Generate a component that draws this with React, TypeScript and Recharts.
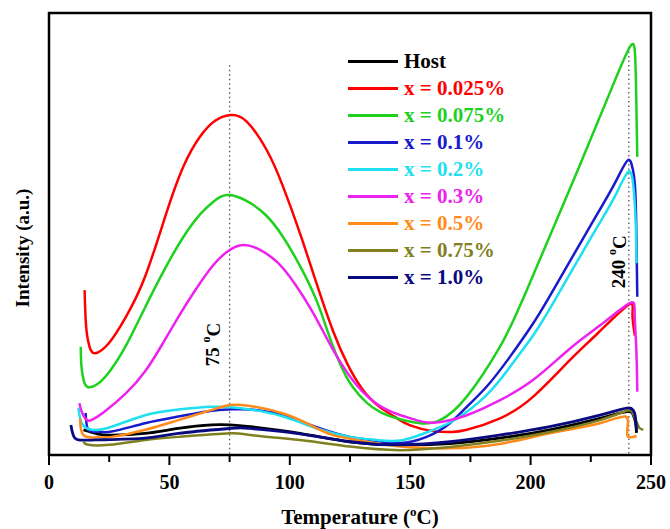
import * as React from "react"
import {
  LineChart,
  Line,
  XAxis,
  YAxis,
  Legend,
  ReferenceLine,
  ReferenceArea,
  ReferenceDot,
} from "recharts"

// [temperature °C, intensity a.u.]
const host: [number, number][] = [
  [14.3, 5.7], [20, 4.8], [26, 4.5], [39.9, 4.9], [53.7, 6.0], [67.6, 6.8], [75, 6.8],
  [83.5, 6.4], [104.2, 4.9], [125, 3.0], [145.8, 2.3], [166.5, 2.6], [187, 3.8],
  [208, 5.7], [228.8, 8.3], [239.9, 9.8], [242.5, 9.2], [243.5, 7.5], [244, 5.0],
]
const x0025: [number, number][] = [
  [14.8, 37.3], [15.0, 33.5], [15.6, 28.0], [16.8, 24.5], [19.1, 23.0], [25, 25.4],
  [32, 31.3], [40, 40.5], [48.9, 55.0], [56, 65.5], [62.7, 72.0], [69, 75.6], [75.2, 76.9],
  [82, 75.5], [90.4, 69.0], [97, 61.0], [104.2, 50.2], [111, 39.0], [118, 28.0], [124, 20.5],
  [130, 15.0], [137, 11.0], [144, 8.5], [150, 6.7], [159.6, 5.4], [167, 5.2], [173.5, 5.7],
  [187.3, 8.3], [201.1, 13.2], [216.4, 21.5], [228, 27.6], [240.5, 33.9], [242.3, 32.0],
  [243.3, 27.0],
]
const x0075: [number, number][] = [
  [13.2, 24.5], [13.5, 20.0], [14.8, 16.2], [16.7, 15.3], [20, 16.0], [25, 18.8],
  [32, 24.8], [40, 33.5], [48, 42.0], [56, 49.5], [63, 54.6], [68, 57.2], [73.8, 58.8],
  [82, 57.5], [90, 54.3], [97, 49.5], [104, 43.0], [111, 35.1], [116, 27.5], [121, 20.5],
  [126, 15.5], [132, 11.8], [138, 9.6], [145, 8.2], [154, 7.2], [162.4, 7.9],
  [173.5, 13.2], [187.3, 24.5], [198.4, 37.3], [220, 65.0], [234, 83.4], [241.3, 92.4],
  [243.4, 90.5], [243.9, 80.0], [244.3, 67.5],
]
const x01: [number, number][] = [
  [15.2, 9.5], [16.3, 5.7], [20, 5.3], [26, 5.3], [39.9, 7.2], [53.7, 8.7], [67.6, 10.0],
  [75, 10.3], [83.5, 10.3], [97.3, 9.0], [111.2, 6.3], [125, 4.1], [136.1, 3.2],
  [145.8, 2.7], [156.8, 4.1], [166.5, 7.2], [173.5, 10.9], [181.8, 15.5], [191.4, 22.2],
  [201.1, 29.8], [209.4, 37.3], [225, 52.0], [235, 61.5], [240.4, 66.7], [242.5, 64.5],
  [243.6, 58.0], [244.3, 35.8],
]
const x02: [number, number][] = [
  [12.2, 10.6], [13.6, 7.2], [17.7, 5.7], [26, 6.4], [39.9, 9.0], [53.7, 10.3],
  [67.6, 10.9], [75, 10.8], [83.5, 10.3], [97.3, 8.7], [111.2, 6.0], [125, 4.1],
  [136.1, 3.4], [147.1, 3.4], [159.6, 5.7], [169.3, 8.2], [181.8, 13.6], [191.4, 19.9],
  [201.1, 27.1], [209.4, 34.4], [225, 49.1], [235, 58.5], [240.6, 64.1], [242.7, 60.7],
  [243.6, 53.2], [244, 43.4],
]
const x03: [number, number][] = [
  [12.6, 11.7], [13.6, 9.8], [15.7, 7.9], [18, 8.0], [22.6, 9.6], [32, 14.0], [40, 19.0],
  [47, 25.0], [54, 31.5], [61, 37.5], [68, 42.8], [74, 46.0], [80.7, 47.5], [88, 46.3],
  [95, 43.5], [102, 38.8], [109, 32.8], [115, 26.8], [121, 21.0], [127, 16.3], [133, 12.9],
  [139, 10.6], [146, 9.0], [152, 8.0], [159.6, 7.3], [173.5, 9.0], [187.3, 12.4],
  [201.1, 17.0], [216.4, 24.1], [229, 29.4], [241, 34.3], [243.2, 32.1], [243.9, 24.0],
  [244.3, 14.3],
]
const x05: [number, number][] = [
  [12.9, 8.3], [14.3, 4.5], [20, 4.0], [26, 4.1], [39.9, 5.7], [53.7, 7.9], [67.6, 10.2],
  [75, 11.3], [83.5, 11.1], [97.3, 9.4], [108.4, 6.8], [118, 4.5], [132, 3.0],
  [145.8, 1.9], [166.5, 1.5], [187, 2.5], [208, 4.9], [228.8, 7.2], [239.4, 8.7],
  [240.2, 6.0], [240.6, 4.1], [244, 4.3],
]
const x075: [number, number][] = [
  [14.3, 3.0], [16.3, 2.3], [25, 2.3], [39.9, 3.4], [53.7, 4.1], [75, 4.9], [83.5, 4.5],
  [104.2, 3.4], [125, 1.9], [145.8, 1.1], [166.5, 1.8], [187, 3.2], [208, 5.2],
  [228.8, 7.9], [239.9, 10.0], [242.5, 9.4], [244, 7.5], [245.2, 6.1], [246.8, 5.7],
]
const x10: [number, number][] = [
  [9.1, 6.8], [10.8, 3.8], [19.1, 3.4], [39.9, 3.8], [53.7, 4.9], [75, 6.0], [83.5, 6.0],
  [104.2, 4.8], [125, 3.0], [145.8, 2.3], [166.5, 3.0], [187, 4.5], [208, 6.4],
  [228.8, 9.0], [239.9, 10.6], [242.5, 10.2], [243.4, 9.0], [244, 5.7],
]

const seriesNames = ["Host", "x = 0.025%", "x = 0.075%", "x = 0.1%", "x = 0.2%", "x = 0.3%", "x = 0.5%", "x = 0.75%", "x = 1.0%"]
const seriesColors = ["#000000", "#ff0000", "#1fd11f", "#1a1acd", "#1ee0f0", "#ee22ee", "#ff8c1a", "#808020", "#0a0a80"]
const seriesData = [host, x0025, x0075, x01, x02, x03, x05, x075, x10]

const xTicks = [0, 25, 50, 75, 100, 125, 150, 175, 200, 225, 250]

const FONT = '"Liberation Serif", "Times New Roman", serif'

function TempTick(props: any) {
  const { x, y, payload } = props
  const major = payload.value % 50 === 0
  return (
    <g>
      <line x1={x} x2={x} y1={y} y2={y + (major ? 10 : 7)} stroke="#000" strokeWidth={2} />
      {major && (
        <text x={x} y={y + 34} textAnchor="middle" fontFamily={FONT} fontWeight="bold" fontSize={20} fill="#000">
          {payload.value}
        </text>
      )}
    </g>
  )
}

function LegendBox() {
  return (
    <div style={{ fontFamily: FONT, fontWeight: "bold", fontSize: 21 }}>
      {seriesNames.map((name, i) => (
        <div key={name} style={{ display: "flex", alignItems: "center", height: 27 }}>
          <span style={{ display: "inline-block", width: 50, height: 3, background: seriesColors[i], marginRight: 6 }} />
          <span style={{ color: seriesColors[i] }}>{name}</span>
        </div>
      ))}
    </div>
  )
}

function rotatedLabel(text: string) {
  return (p: any) => (
    <text
      transform={`translate(${p.cx},${p.cy}) rotate(-90)`}
      textAnchor="middle"
      dominantBaseline="central"
      fontFamily={FONT}
      fontWeight="bold"
      fontSize={19}
      fill="#000"
    >
      {text}
      <tspan dy={-7} fontSize={12}>o</tspan>
      <tspan dy={7}>C</tspan>
    </text>
  )
}

export default function App() {
  return (
    <div style={{ width: 670, height: 529, background: "#fff" }}>
      <style>{"body{margin:0}"}</style>
      <LineChart width={670} height={529} margin={{ top: 13, right: 19, left: 49, bottom: 0 }}>
        <XAxis
          dataKey="t"
          type="number"
          domain={[0, 250]}
          ticks={xTicks}
          interval={0}
          allowDataOverflow
          axisLine={false}
          tickLine={false}
          tickSize={0}
          tickMargin={0}
          tick={<TempTick />}
          height={74}
        />
        <YAxis type="number" domain={[0, 100]} hide allowDataOverflow />
        <ReferenceArea x1={0} x2={250} y1={0} y2={100} fill="none" stroke="#000" strokeWidth={2.5} />
        <ReferenceLine segment={[{ x: 75, y: 88.2 }, { x: 75, y: 0 }]} stroke="#555" strokeDasharray="1.5 3" strokeWidth={1.3} />
        <ReferenceLine segment={[{ x: 240.8, y: 92.3 }, { x: 240.8, y: 0 }]} stroke="#555" strokeDasharray="1.5 3" strokeWidth={1.3} />
        {seriesData.map((pts, i) => (
          <Line
            key={seriesNames[i]}
            name={seriesNames[i]}
            data={pts.map(([t, v]) => ({ t, v }))}
            dataKey="v"
            type="natural"
            stroke={seriesColors[i]}
            strokeWidth={i === 8 || i === 0 ? 2.8 : 2.5}
            dot={false}
            activeDot={false}
            isAnimationActive={false}
          />
        ))}
        <ReferenceDot x={68} y={25} r={0} shape={rotatedLabel("75 ")} />
        <ReferenceDot x={236.7} y={43.7} r={0} shape={rotatedLabel("240 ")} />
        <Legend
          layout="horizontal"
          verticalAlign="middle"
          align="center"
          content={<LegendBox />}
          wrapperStyle={{ top: 48, left: 348, width: 220, right: "auto", bottom: "auto" }}
        />
        <text x={360} y={524} textAnchor="middle" fontFamily={FONT} fontWeight="bold" fontSize={21} fill="#000">
          Temperature (<tspan dy={-8} fontSize={13}>o</tspan>
          <tspan dy={8}>C)</tspan>
        </text>
        <text
          transform="translate(22,248) rotate(-90)"
          textAnchor="middle"
          dominantBaseline="central"
          fontFamily={FONT}
          fontWeight="bold"
          fontSize={19}
          fill="#000"
        >
          Intensity (a.u.)
        </text>
      </LineChart>
    </div>
  )
}
